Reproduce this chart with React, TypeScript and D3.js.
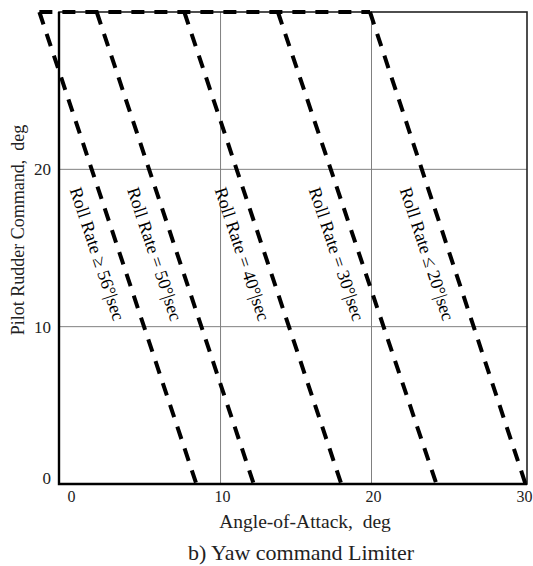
import React, { useEffect, useRef } from 'react';
import * as d3 from 'd3';

// roll-rate limit curves: angle-of-attack where each line sits at full rudder (30 deg) and at zero rudder
const rollRates = ['≥ 56', '= 50', '= 40', '= 30', '≤ 20'];
const aoaAtMaxRudder = [-2, 1.8, 7.6, 13.8, 19.9];
const aoaAtZeroRudder = [8.4, 12.2, 18, 24.3, 30.2];
const rudderMax = 30;
const xTicks = [0, 10, 20, 30];
const yTicks = [0, 10, 20];

const W = 533;
const H = 566;
const FONT = '"Liberation Serif", "Times New Roman", serif';

const App: React.FC = () => {
  const svgRef = useRef<SVGSVGElement>(null);

  useEffect(() => {
    const { current: node } = svgRef;
    if (!node) return;
    const svg = d3.select(node);
    svg.selectAll('*').remove();

    const left = 59, right = 527, top = 12, bottom = 484;
    const x = d3.scaleLinear().domain([-0.7, 30.3]).range([left, right]);
    const y = d3.scaleLinear().domain([0, rudderMax]).range([bottom, top]);

    // grid
    const grid = svg.append('g').attr('stroke', '#808080').attr('stroke-width', 1);
    [10, 20].forEach((v) => {
      grid.append('line').attr('x1', x(v)).attr('x2', x(v)).attr('y1', top).attr('y2', bottom);
      grid.append('line').attr('x1', left).attr('x2', right).attr('y1', y(v)).attr('y2', y(v));
    });

    // frame
    svg.append('rect')
      .attr('x', left).attr('y', top)
      .attr('width', right - left).attr('height', bottom - top)
      .attr('fill', 'none').attr('stroke', '#222').attr('stroke-width', 1.6);
    svg.append('path')
      .attr('d', `M${left},${top}V${bottom}H${right}`)
      .attr('fill', 'none').attr('stroke', '#000').attr('stroke-width', 2.4);

    // dashed limit lines
    const line = d3.line<[number, number]>().x((d) => x(d[0])).y((d) => y(d[1]));
    const dashed = svg.append('g')
      .attr('fill', 'none').attr('stroke', '#000')
      .attr('stroke-width', 4).attr('stroke-dasharray', '13,10');

    dashed.append('path')
      .attr('d', line([[aoaAtMaxRudder[0], rudderMax], [aoaAtMaxRudder[aoaAtMaxRudder.length - 1], rudderMax]]));

    rollRates.forEach((r, i) => {
      dashed.append('path')
        .attr('d', line([[aoaAtMaxRudder[i], rudderMax], [aoaAtZeroRudder[i], 0]]));

      const x0 = x(aoaAtMaxRudder[i]), y0 = y(rudderMax);
      const x1 = x(aoaAtZeroRudder[i]), y1 = y(0);
      const angle = (Math.atan2(y1 - y0, x1 - x0) * 180) / Math.PI;
      const ly = 18.7;
      const t = (rudderMax - ly) / rudderMax;
      const lx = x0 + (x1 - x0) * t - 29;
      svg.append('text')
        .attr('transform', `translate(${lx},${y(ly)}) rotate(${angle})`)
        .attr('font-family', FONT).attr('font-size', 18)
        .text(`Roll Rate ${r}°|sec`);
    });

    // tick labels
    svg.append('g').selectAll('text').data(xTicks).join('text')
      .attr('x', (d) => x(d) + 2).attr('y', 502)
      .attr('text-anchor', 'middle')
      .attr('font-family', FONT).attr('font-size', 16).attr('fill', '#222')
      .text((d) => d);
    svg.append('g').selectAll('text').data(yTicks).join('text')
      .attr('x', 51).attr('y', (d) => y(d) + (d === 0 ? 0 : 6))
      .attr('text-anchor', 'end')
      .attr('font-family', FONT).attr('font-size', 17).attr('fill', '#222')
      .text((d) => d);

    // axis titles
    svg.append('text')
      .attr('x', 305).attr('y', 528).attr('text-anchor', 'middle')
      .attr('font-family', FONT).attr('font-size', 19.5).attr('fill', '#222')
      .attr('xml:space', 'preserve')
      .text('Angle-of-Attack,  deg');
    svg.append('text')
      .attr('transform', 'translate(24,230) rotate(-90)').attr('text-anchor', 'middle')
      .attr('font-family', FONT).attr('font-size', 18).attr('fill', '#222')
      .attr('xml:space', 'preserve')
      .text('Pilot Rudder Command,  deg');
    svg.append('text')
      .attr('x', 301).attr('y', 560).attr('text-anchor', 'middle')
      .attr('font-family', FONT).attr('font-size', 22).attr('fill', '#222')
      .text('b) Yaw command Limiter');
  }, []);

  return (
    <svg
      ref={svgRef}
      width={W}
      height={H}
      style={{ position: 'absolute', left: 0, top: 0, background: '#fff' }}
    />
  );
};

export default App;
